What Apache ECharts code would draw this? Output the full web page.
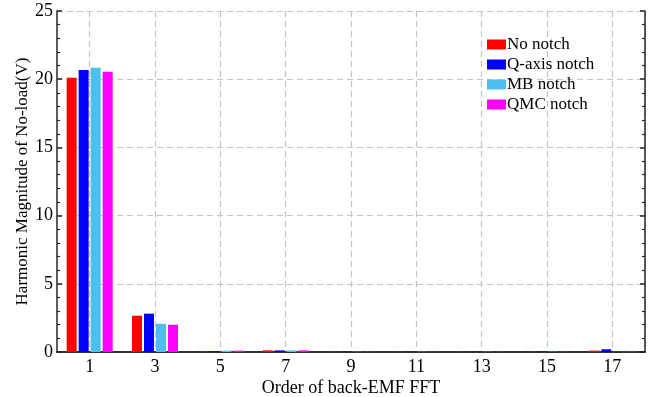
<!DOCTYPE html>
<html>
<head>
  <meta charset="utf-8">
  <title>Back-EMF FFT</title>
  <script src="https://cdn.jsdelivr.net/npm/echarts@6/dist/echarts.min.js"></script>
  <style>
  html, body { margin: 0; padding: 0; background: #fff; }
  #main { width: 656px; height: 397px; }
  </style>
</head>
<body>
  <div id="main"></div>
  <script type="text/javascript">
  // harmonic orders and magnitudes
  var orders = ['1', '3', '5', '7', '9', '11', '13', '15', '17'];
  var noNotch  = [20.11, 2.66, 0.03, 0.12, 0.02, 0.02, 0.02, 0.02, 0.10];
  var qAxis    = [20.67, 2.81, 0.05, 0.12, 0.02, 0.02, 0.02, 0.02, 0.20];
  var mbNotch  = [20.84, 2.07, 0.10, 0.12, 0.02, 0.02, 0.02, 0.02, 0.01];
  var qmcNotch = [20.55, 2.00, 0.10, 0.12, 0.02, 0.02, 0.02, 0.02, 0.03];
  var yTicks = [0, 5, 10, 15, 20, 25];

  var font = 'Liberation Serif';
  var axisColor = '#262626';
  var gridDash = { color: '#c4c4c4', width: 1.2, type: [6, 4] };

  // half-step slots so vertical grid lines sit on the order labels
  var halfSlots = [];
  orders.forEach(function (o) { halfSlots.push('', o); });

  var myChart = echarts.init(document.getElementById('main'));

  function bar(name, data, color) {
    return {
      name: name,
      type: 'bar',
      data: data,
      barWidth: 10,
      barGap: '20%',
      itemStyle: { color: color },
      xAxisIndex: 0,
      yAxisIndex: 0
    };
  }

  var tickStyle = { color: axisColor, width: 1.5 };

  var option = {
    backgroundColor: '#fff',
    animation: false,
    textStyle: { fontFamily: font },
    grid: { left: 57, right: 11, top: 11, bottom: 45, containLabel: false, outerBoundsMode: 'none' },
    legend: {
      orient: 'vertical',
      left: 482,
      top: 31,
      itemWidth: 19,
      itemHeight: 10,
      itemGap: 3,
      icon: 'rect',
      textStyle: { fontFamily: font, fontSize: 17, lineHeight: 17, color: '#000', padding: [0, 0, 0, -4] },
      data: ['No notch', 'Q-axis notch', 'MB notch', 'QMC notch']
    },
    xAxis: [{
      type: 'category',
      data: orders,
      position: 'bottom',
      name: 'Order of back-EMF FFT',
      nameLocation: 'middle',
      nameGap: 27,
      nameMoveOverlap: false,
      nameTextStyle: { fontFamily: font, fontSize: 18, color: '#000' },
      axisLine: { lineStyle: tickStyle },
      axisTick: { inside: true, alignWithLabel: true, length: 5, lineStyle: tickStyle },
      axisLabel: { fontFamily: font, fontSize: 18, color: '#000', margin: 6 },
      splitLine: { show: false }
    }, {
      type: 'category',
      data: orders,
      position: 'top',
      axisLine: { lineStyle: tickStyle },
      axisTick: { inside: true, alignWithLabel: true, length: 5, lineStyle: tickStyle },
      axisLabel: { show: false },
      splitLine: { show: false }
    }, {
      type: 'category',
      data: halfSlots,
      position: 'bottom',
      axisLine: { show: false },
      axisTick: { show: false },
      axisLabel: { show: false },
      splitLine: {
        show: true,
        interval: function (index) { return index % 2 === 1; },
        lineStyle: gridDash
      }
    }],
    yAxis: [{
      type: 'value',
      min: yTicks[0],
      max: yTicks[yTicks.length - 1],
      interval: 5,
      name: 'Harmonic Magnitude of No-load(V)',
      nameLocation: 'middle',
      nameGap: 26,
      nameMoveOverlap: false,
      nameTextStyle: { fontFamily: font, fontSize: 17, color: '#000' },
      axisLine: { show: true, lineStyle: tickStyle },
      axisTick: { show: true, inside: true, length: 5, lineStyle: tickStyle },
      minorTick: { show: true, splitNumber: 5, length: 3, lineStyle: { color: axisColor, width: 1.2 } },
      axisLabel: { fontFamily: font, fontSize: 18, color: '#000', margin: 4 },
      splitLine: { show: true, lineStyle: gridDash }
    }, {
      type: 'value',
      position: 'right',
      min: yTicks[0],
      max: yTicks[yTicks.length - 1],
      interval: 5,
      axisLine: { show: true, lineStyle: tickStyle },
      axisTick: { show: true, inside: true, length: 5, lineStyle: tickStyle },
      minorTick: { show: true, splitNumber: 5, length: 3, lineStyle: { color: axisColor, width: 1.2 } },
      axisLabel: { show: false },
      splitLine: { show: false }
    }],
    series: [
      bar('No notch', noNotch, '#ff0000'),
      bar('Q-axis notch', qAxis, '#0000ff'),
      bar('MB notch', mbNotch, '#4dbeee'),
      bar('QMC notch', qmcNotch, '#ff00ff')
    ]
  };
  myChart.setOption(option);
  window.onresize = myChart.resize;
  </script>
</body>
</html>
